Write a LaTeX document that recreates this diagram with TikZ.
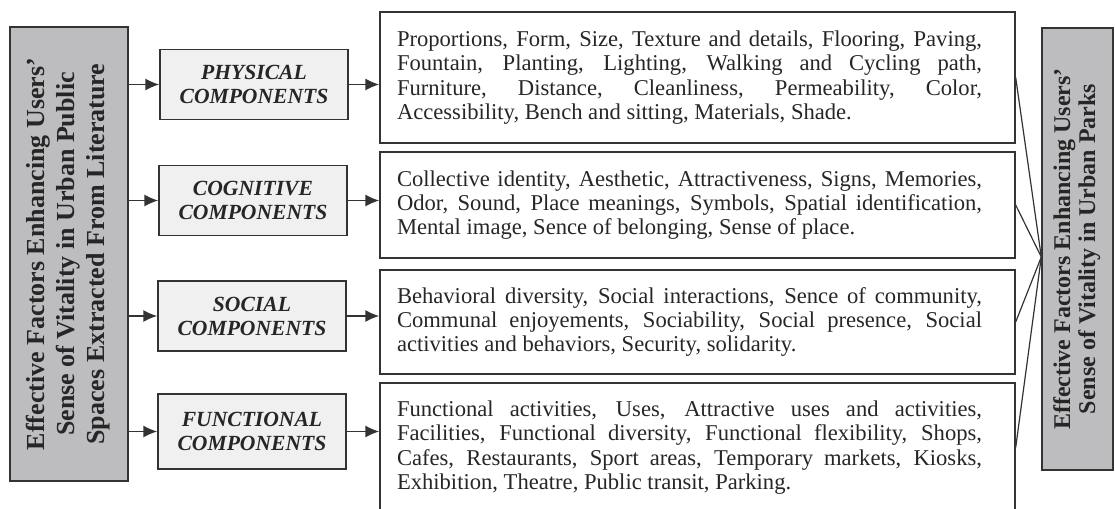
\documentclass[tikz,border=0pt]{standalone}
\usepackage{fontspec}
\usepackage{graphicx}
\setmainfont{Liberation Serif}
\usetikzlibrary{arrows.meta,positioning,calc}

\definecolor{boxline}{HTML}{333333}
\definecolor{sidegray}{HTML}{BDBDBF}
\definecolor{compgray}{HTML}{F0F0F0}

\begin{document}
\begin{tikzpicture}[
  x=0.5pt, y=-0.5pt,
  >={Latex[length=7pt,width=6pt]},
  line width=0.7pt,
  side/.style = {
    draw=boxline, fill=sidegray,
    inner sep=0pt,
    text=black!85
  },
  comp/.style = {
    draw=boxline, fill=compgray,
    align=center,
    minimum width=94pt, minimum height=35pt,
    inner sep=0pt,
    text=black!85,
    font=\fontsize{10.8}{12}\selectfont\bfseries\itshape
  },
  % text sits a little left of the box centre
  items/.style = {
    draw=boxline,
    text width=292.5pt,
    inner xsep=12.5pt, inner ysep=0pt,
    align=justify,
    text=black!85,
    font=\fontsize{11.3}{12.2}\selectfont,
    execute at begin node={\leftskip=-4pt\rightskip=4pt}
  },
  link/.style = {draw=boxline, ->},
  joinline/.style = {draw=boxline, line width=0.6pt}
]

\useasboundingbox (0,0) rectangle (1115,509);

% ---- side boxes ----
\node[side, minimum width=59pt, minimum height=227pt] (lbox) at (69,254)
  {\fontsize{13}{15}\selectfont\bfseries\rotatebox{90}{\begin{tabular}{@{}c@{}}
  Effective Factors Enhancing Users'\\
  Sense of Vitality in Urban Public\\
  Spaces Extracted From Literature
  \end{tabular}}};

\node[side, minimum width=35.5pt, minimum height=221pt] (rbox) at (1077.5,249)
  {\fontsize{12}{12.5}\selectfont\bfseries\rotatebox{90}{\begin{tabular}{@{}c@{}}
  Effective Factors Enhancing Users'\\
  Sense of Vitality in Urban Parks
  \end{tabular}}};

% ---- components ----
\node[comp] (phys) at (254,84.5) {PHYSICAL\\COMPONENTS};
\node[comp] (cogn) at (253,200.5) {COGNITIVE\\COMPONENTS};
\node[comp] (soc)  at (252,316) {SOCIAL\\COMPONENTS};
\node[comp, minimum height=37.5pt] (func) at (252,431.5) {FUNCTIONAL\\COMPONENTS};

% ---- factor lists (\linebreak keeps each line justified) ----
\node[items, minimum height=65.5pt] (physlist) at (697.5,77.5) {%
Proportions, Form, Size, Texture and details, Flooring, Paving, \linebreak
Fountain, Planting, Lighting, Walking and Cycling path, \linebreak
Furniture, Distance, Cleanliness, Permeability, Color, \linebreak
Accessibility, Bench and sitting, Materials, Shade.};

\node[items, minimum height=53pt] (cognlist) at (697.5,205) {%
Collective identity, Aesthetic, Attractiveness, Signs, Memories, \linebreak
Odor, Sound, Place meanings, Symbols, Spatial identification, \linebreak
Mental image, Sence of belonging, Sense of place.};

\node[items, minimum height=52pt] (soclist) at (697.5,322) {%
Behavioral diversity, Social interactions, Sence of community, \linebreak
Communal enjoyements, Sociability, Social presence, Social \linebreak
activities and behaviors, Security, solidarity.};

\node[items, minimum height=64.5pt] (funclist) at (697.5,447.5) {%
Functional activities, Uses, Attractive uses and activities, \linebreak
Facilities, Functional diversity, Functional flexibility, Shops, \linebreak
Cafes, Restaurants, Sport areas, Temporary markets, Kiosks, \linebreak
Exhibition, Theatre, Public transit, Parking.};

% ---- arrows ----
\foreach \c/\l in {phys/physlist, cogn/cognlist, soc/soclist, func/funclist} {
  \draw[link] (\c.west -| lbox.east) -- (\c.west);
  \draw[link] (\c.east) -- (\c.east -| \l.west);
}

% lists meet at the right box
\coordinate (join) at ($(rbox.west)+(0,8)$);
\foreach \l in {physlist, cognlist, soclist, funclist}
  \draw[joinline] (\l.east) -- (join);

\end{tikzpicture}
\end{document}
